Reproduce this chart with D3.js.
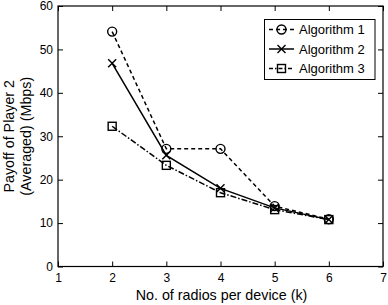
<!DOCTYPE html>
<html>
<head>
<meta charset="utf-8">
<script src="https://cdn.jsdelivr.net/npm/d3@7"></script>
<style>
  body { margin: 0; background: #fff; }
  svg { font-family: "Liberation Sans", Arial, sans-serif; }
</style>
</head>
<body>
<div id="chart"></div>
<script>
// data
let radios = [2, 3, 4, 5, 6]
let algo1 = [54.1, 27.1, 27.1, 13.9, 10.9]
let algo2 = [46.8, 25.6, 18.0, 13.5, 10.8]
let algo3 = [32.3, 23.3, 17.0, 13.1, 10.8]
let seriesNames = ['Algorithm 1', 'Algorithm 2', 'Algorithm 3']
let xTicks = [1, 2, 3, 4, 5, 6, 7]
let yTicks = [0, 10, 20, 30, 40, 50, 60]

let width = 388, height = 305
let margin = {left: 58, right: 5, top: 6, bottom: 38.5}

let svg = d3.select('#chart').append('svg')
    .attr('width', width)
    .attr('height', height)

let x = d3.scaleLinear().domain([1, 7]).range([margin.left, width - margin.right])
let y = d3.scaleLinear().domain([0, 60]).range([height - margin.bottom, margin.top])

// axes with inward ticks (matlab box style)
let tickLen = 5
let axisStyle = g => {
    g.select('.domain').remove()
    g.selectAll('.tick line').attr('stroke', '#000')
    g.selectAll('.tick text').attr('fill', '#000').style('font-size', '12px')
}
svg.append('g')
    .attr('transform', `translate(0,${y(0)})`)
    .call(d3.axisBottom(x).tickValues(xTicks).tickSize(-tickLen).tickPadding(7).tickFormat(d3.format('d')))
    .call(axisStyle)
svg.append('g')
    .attr('transform', `translate(0,${y(60)})`)
    .call(d3.axisTop(x).tickValues(xTicks).tickSize(-tickLen).tickFormat(''))
    .call(axisStyle)
svg.append('g')
    .attr('transform', `translate(${x(1)},0)`)
    .call(d3.axisLeft(y).tickValues(yTicks).tickSize(-tickLen).tickPadding(5).tickFormat(d3.format('d')))
    .call(axisStyle)
svg.append('g')
    .attr('transform', `translate(${x(7)},0)`)
    .call(d3.axisRight(y).tickValues(yTicks).tickSize(-tickLen).tickFormat(''))
    .call(axisStyle)

// box
svg.append('rect')
    .attr('x', x(1)).attr('y', y(60))
    .attr('width', x(7) - x(1)).attr('height', y(0) - y(60))
    .attr('fill', 'none').attr('stroke', '#000').attr('stroke-width', 1.2)

let series = [
    {name: seriesNames[0], values: algo1, dash: '4,3', marker: 'circle'},
    {name: seriesNames[1], values: algo2, dash: null, marker: 'cross'},
    {name: seriesNames[2], values: algo3, dash: '6,2,1.5,2', marker: 'square'}
]

let line = d3.line().x((d, i) => x(radios[i])).y(d => y(d))

let drawMarker = (g, type, cx, cy) => {
    if (type === 'circle') {
        g.append('circle').attr('cx', cx).attr('cy', cy).attr('r', 4.5)
            .attr('fill', 'none').attr('stroke', '#000').attr('stroke-width', 1.4)
    } else if (type === 'cross') {
        let s = 4
        g.append('path')
            .attr('d', `M${cx - s},${cy - s}L${cx + s},${cy + s}M${cx - s},${cy + s}L${cx + s},${cy - s}`)
            .attr('stroke', '#000').attr('stroke-width', 1.4)
    } else {
        g.append('rect').attr('x', cx - 4).attr('y', cy - 4).attr('width', 8).attr('height', 8)
            .attr('fill', 'none').attr('stroke', '#000').attr('stroke-width', 1.4)
    }
}

series.forEach(s => {
    svg.append('path')
        .attr('d', line(s.values))
        .attr('fill', 'none')
        .attr('stroke', '#000')
        .attr('stroke-width', 1.5)
        .attr('stroke-dasharray', s.dash)
    let g = svg.append('g')
    s.values.forEach((v, i) => drawMarker(g, s.marker, x(radios[i]), y(v)))
})

// legend
let lg = svg.append('g')
lg.append('rect')
    .attr('x', 264.5).attr('y', 19.5).attr('width', 110.5).attr('height', 60)
    .attr('fill', '#fff').attr('stroke', '#000').attr('stroke-width', 1)
series.forEach((s, i) => {
    let ly = 29.5 + i * 19.5
    lg.append('line')
        .attr('x1', 269).attr('x2', 294).attr('y1', ly).attr('y2', ly)
        .attr('stroke', '#000').attr('stroke-width', 1.5)
        .attr('stroke-dasharray', s.dash ? (i === 0 ? '4,3' : '4,2,1.5,2') : null)
    drawMarker(lg, s.marker, 281.5, ly)
    lg.append('text')
        .attr('x', 299).attr('y', ly + 4.5)
        .style('font-size', '13px')
        .text(s.name)
})

// axis labels
svg.append('text')
    .attr('x', x(4) + 1).attr('y', 300)
    .attr('text-anchor', 'middle')
    .style('font-size', '14.3px')
    .text('No. of radios per device (k)')

let yl = svg.append('text')
    .attr('transform', `translate(0,${y(30)}) rotate(-90)`)
    .attr('text-anchor', 'middle')
    .style('font-size', '14.3px')
yl.append('tspan').attr('x', 0).attr('y', 13.5).text('Payoff of Player 2')
yl.append('tspan').attr('x', 0).attr('y', 30.5).text('(Averaged) (Mbps)')
</script>
</body>
</html>
